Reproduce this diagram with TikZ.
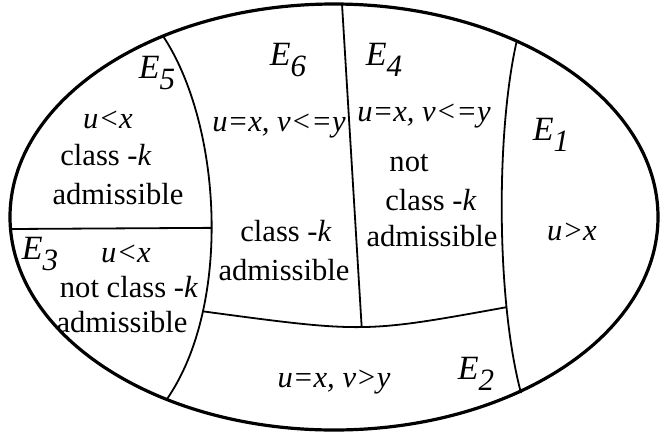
\documentclass[tikz,border=0pt]{standalone}
\usepackage{fontspec}
\setmainfont{Liberation Serif}

\newcommand{\Ename}[1]{E\raisebox{-0.32em}{\fontsize{15.5}{16}\selectfont #1}}

\tikzset{
  rim/.style={line width=1.6pt},
  border/.style={line width=0.9pt},
  txt/.style={inner sep=0pt, font=\fontsize{15.3}{18}\selectfont},
  regname/.style={inner sep=0pt, font=\fontsize{17}{19}\selectfont\itshape},
}

\begin{document}
\begin{tikzpicture}[x=0.5pt, y=-0.5pt]
\useasboundingbox (0,0) rectangle (660,435);

% outer rim
\draw[rim] (334,217) ellipse [x radius=324, y radius=213];

% meeting points on the rim
\coordinate (A) at (163,36);
\coordinate (B) at (342,4);
\coordinate (C) at (517,40);
\coordinate (D) at (167,399);
\coordinate (F) at (521,393);
\coordinate (G) at (10.5,229);

% dividing curves
\draw[border] (A) .. controls (222,125) and (232,305) .. (D)
  coordinate[pos=0.53] (H) coordinate[pos=0.74] (P);
\draw[border] (C) .. controls (496,130) and (496,299) .. (F)
  coordinate[pos=0.74] (Q);
\draw[border] (G) -- (H);
\draw[border] (P) .. controls (364,333) .. (Q) coordinate[pos=0.5] (M);
\draw[border] (B) -- (M);

% region names
\node[regname] (n5) at (157,73) {\Ename{5}};
\node[regname] (n6) at (288,60) {\Ename{6}};
\node[regname] (n4) at (384,60) {\Ename{4}};
\node[regname] (n1) at (551,135) {\Ename{1}};
\node[regname] (n3) at (40,254) {\Ename{3}};
\node[regname] (n2) at (476,374) {\Ename{2}};

% E5
\node[txt] (c5a) at (108,120) {\textit{u<x}};
\node[txt] (c5b) at (106,155) {class -\textit{k}};
\node[txt] (c5c) at (118,194) {admissible};
% E6
\node[txt] (c6a) at (279,126) {\textit{u=x, v<=y}};
\node[txt] (c6b) at (286,231) {class -\textit{k}};
\node[txt] (c6c) at (284,270) {admissible};
% E4
\node[txt] (c4a) at (424,116) {\textit{u=x, v<=y}};
\node[txt] (c4b) at (409,163) {not};
\node[txt] (c4c) at (431,200) {class -\textit{k}};
\node[txt] (c4d) at (432,236) {admissible};
% E1
\node[txt] (c1a) at (572,232) {\textit{u>x}};
% E3
\node[txt] (c3a) at (126,254) {\textit{u<x}};
\node[txt] (c3b) at (129,287) {not class -\textit{k}};
\node[txt] (c3c) at (122,322) {admissible};
% E2
\node[txt] (c2a) at (334,382) {\textit{u=x, v>y}};

\end{tikzpicture}
\end{document}
